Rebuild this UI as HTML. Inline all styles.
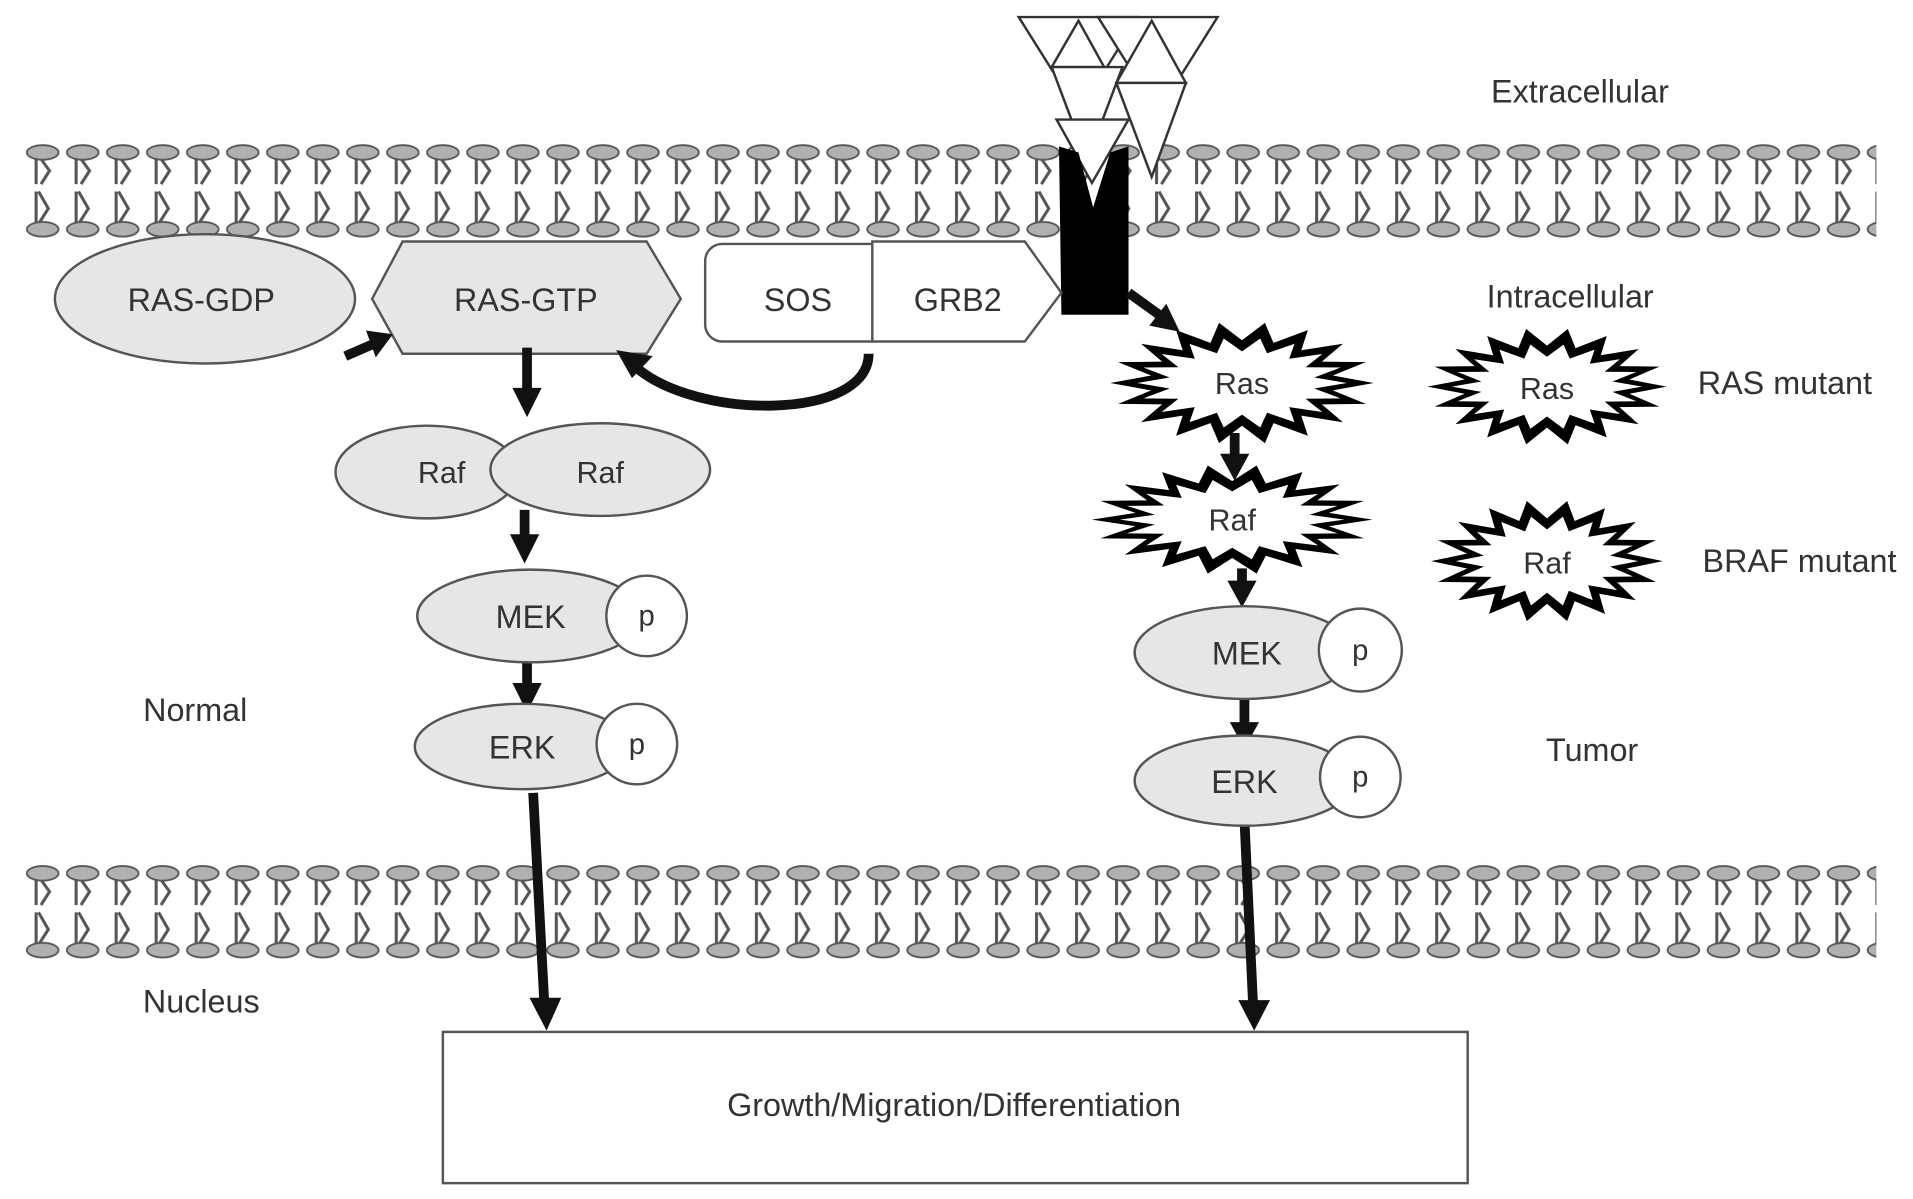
<!DOCTYPE html>
<html><head><meta charset="utf-8"><style>
html,body{margin:0;padding:0;background:#fff;}
svg{display:block;}
text{font-family:"Liberation Sans",sans-serif;fill:#333;}
</style></head><body>
<svg width="1913" height="1199" viewBox="0 0 1568 983" preserveAspectRatio="none" xmlns="http://www.w3.org/2000/svg">
<defs>
<pattern id="lip" x="18.6" y="115" width="32.8" height="80" patternUnits="userSpaceOnUse">
 <g stroke="#555" stroke-width="2.5" fill="none">
  <line x1="11" y1="14" x2="11" y2="36"/>
  <polyline points="14,14 22,25 15,36"/>
  <line x1="11" y1="42" x2="11" y2="68"/>
  <polyline points="13,42 21,56 14,67"/>
 </g>
 <ellipse cx="16.4" cy="10" rx="13" ry="6" fill="#b0b0b0" stroke="#555" stroke-width="1.5"/>
 <ellipse cx="16.4" cy="73" rx="13" ry="6" fill="#b0b0b0" stroke="#555" stroke-width="1.5"/>
</pattern>
<pattern id="lip2" x="18.6" y="706" width="32.8" height="80" patternUnits="userSpaceOnUse">
 <g stroke="#555" stroke-width="2.5" fill="none">
  <line x1="11" y1="14" x2="11" y2="36"/>
  <polyline points="14,14 22,25 15,36"/>
  <line x1="11" y1="42" x2="11" y2="68"/>
  <polyline points="13,42 21,56 14,67"/>
 </g>
 <ellipse cx="16.4" cy="10" rx="13" ry="6" fill="#b0b0b0" stroke="#555" stroke-width="1.5"/>
 <ellipse cx="16.4" cy="73" rx="13" ry="6" fill="#b0b0b0" stroke="#555" stroke-width="1.5"/>
</pattern>
<polygon id="star" points="1,0 .689,.122 .94,.342 .606,.35 .766,.643 .45,.536 .5,.866 .239,.658 .174,.985 0,.7 -.174,.985 -.239,.658 -.5,.866 -.45,.536 -.766,.643 -.606,.35 -.94,.342 -.689,.122 -1,0 -.689,-.122 -.94,-.342 -.606,-.35 -.766,-.643 -.45,-.536 -.5,-.866 -.239,-.658 -.174,-.985 0,-.7 .174,-.985 .239,-.658 .5,-.866 .45,-.536 .766,-.643 .606,-.35 .94,-.342 .689,-.122"/>
</defs>

<rect x="18" y="115" width="1520" height="80" fill="url(#lip)"/>
<rect x="18" y="706" width="1520" height="80" fill="url(#lip2)"/>

<g fill="#fff" stroke="#333" stroke-width="2">
 <polygon points="835,14 933,14 884,92"/>
 <polygon points="900,14 998,14 949,92"/>
 <polygon points="884,17 905,55 862,55"/>
 <polygon points="944,17 972,68 915,68"/>
 <polygon points="862,55 920,55 891,132"/>
 <polygon points="915,68 972,68 944,145"/>
 <polygon points="866,98 925,98 895,150"/>
</g>
<polygon points="868,120 884,125 896,170 910,125 925,120 925,258 870,258" fill="#000"/>

<ellipse cx="168" cy="245" rx="123" ry="53" fill="#e6e6e6" stroke="#555" stroke-width="2"/>
<polygon points="305,245 330,198 530,198 558,245 530,290 330,290" fill="#e6e6e6" stroke="#555" stroke-width="2"/>
<rect x="578" y="200" width="150" height="80" rx="14" fill="#fff" stroke="#555" stroke-width="2"/>
<polygon points="715,198 840,198 870,240 840,280 715,280" fill="#fff" stroke="#555" stroke-width="2"/>

<text x="165" y="255" font-size="26.5" text-anchor="middle">RAS-GDP</text>
<text x="431" y="255" font-size="26.5" text-anchor="middle">RAS-GTP</text>
<text x="654" y="255" font-size="26.5" text-anchor="middle">SOS</text>
<text x="785" y="255" font-size="26.5" text-anchor="middle">GRB2</text>

<g stroke="#111" stroke-width="8" fill="none">
 <line x1="283" y1="292" x2="306" y2="282"/>
 <line x1="432" y1="285" x2="432" y2="320"/>
 <line x1="430" y1="418" x2="430" y2="440"/>
 <line x1="432" y1="540" x2="432" y2="562"/>
 <line x1="437" y1="650" x2="446" y2="820"/>
 <line x1="925" y1="240" x2="950" y2="258"/>
 <line x1="1012" y1="355" x2="1012" y2="374"/>
 <line x1="1018" y1="466" x2="1018" y2="478"/>
 <line x1="1020" y1="573" x2="1020" y2="594"/>
 <line x1="1020" y1="672" x2="1027" y2="822"/>
</g>
<g fill="#111">
 <polygon points="322,274 300,271 308,293"/>
 <polygon points="420,318 444,318 432,342"/>
 <polygon points="418,438 442,438 430,462"/>
 <polygon points="420,560 444,560 432,584"/>
 <polygon points="434,818 460,818 448,845"/>
 <polygon points="967,272 942,267 956,249"/>
 <polygon points="1000,372 1024,372 1012,394"/>
 <polygon points="1006,476 1030,476 1018,498"/>
 <polygon points="1008,592 1032,592 1020,614"/>
 <polygon points="1015,820 1041,820 1028,845"/>
</g>
<path d="M712,290 C712,345 570,345 520,300" stroke="#111" stroke-width="8" fill="none"/>
<polygon points="505,287 535,292 518,310" fill="#111"/>

<ellipse cx="350" cy="387" rx="75" ry="38" fill="#e6e6e6" stroke="#555" stroke-width="2"/>
<ellipse cx="492" cy="385" rx="90" ry="38" fill="#e6e6e6" stroke="#555" stroke-width="2"/>
<text x="362" y="396" font-size="25" text-anchor="middle">Raf</text>
<text x="492" y="396" font-size="25" text-anchor="middle">Raf</text>
<ellipse cx="435" cy="505" rx="93" ry="38" fill="#e6e6e6" stroke="#555" stroke-width="2"/>
<circle cx="530" cy="505" r="33" fill="#fff" stroke="#555" stroke-width="2"/>
<text x="435" y="515" font-size="26.5" text-anchor="middle">MEK</text>
<text x="530" y="513" font-size="24" text-anchor="middle">p</text>
<ellipse cx="428" cy="612" rx="88" ry="35" fill="#e6e6e6" stroke="#555" stroke-width="2"/>
<circle cx="522" cy="610" r="33" fill="#fff" stroke="#555" stroke-width="2"/>
<text x="428" y="622" font-size="26.5" text-anchor="middle">ERK</text>
<text x="522" y="618" font-size="24" text-anchor="middle">p</text>

<use href="#star" transform="translate(1018,314) scale(108,50)" fill="#000"/>
<use href="#star" transform="translate(1018,314) scale(86,37)" fill="#fff"/>
<use href="#star" transform="translate(1268,317) scale(98,48)" fill="#000"/>
<use href="#star" transform="translate(1268,317) scale(78,35)" fill="#fff"/>
<use href="#star" transform="translate(1010,426) scale(115,45)" fill="#000"/>
<use href="#star" transform="translate(1010,426) scale(92,33)" fill="#fff"/>
<use href="#star" transform="translate(1268,460) scale(95,50)" fill="#000"/>
<use href="#star" transform="translate(1268,460) scale(75,37)" fill="#fff"/>
<text x="1018" y="323" font-size="25" text-anchor="middle">Ras</text>
<text x="1268" y="327" font-size="25" text-anchor="middle">Ras</text>
<text x="1010" y="435" font-size="25" text-anchor="middle">Raf</text>
<text x="1268" y="470" font-size="25" text-anchor="middle">Raf</text>

<ellipse cx="1020" cy="535" rx="90" ry="38" fill="#e6e6e6" stroke="#555" stroke-width="2"/>
<circle cx="1115" cy="533" r="34" fill="#fff" stroke="#555" stroke-width="2"/>
<text x="1022" y="545" font-size="26.5" text-anchor="middle">MEK</text>
<text x="1115" y="541" font-size="24" text-anchor="middle">p</text>
<ellipse cx="1020" cy="640" rx="90" ry="37" fill="#e6e6e6" stroke="#555" stroke-width="2"/>
<circle cx="1115" cy="637" r="33" fill="#fff" stroke="#555" stroke-width="2"/>
<text x="1020" y="650" font-size="26.5" text-anchor="middle">ERK</text>
<text x="1115" y="645" font-size="24" text-anchor="middle">p</text>

<rect x="363" y="846" width="840" height="124" fill="#fff" stroke="#555" stroke-width="2"/>
<text x="782" y="915" font-size="26.5" text-anchor="middle">Growth/Migration/Differentiation</text>

<text x="1295" y="84" font-size="26.5" text-anchor="middle">Extracellular</text>
<text x="1287" y="252" font-size="26.5" text-anchor="middle">Intracellular</text>
<text x="1463" y="323" font-size="26.5" text-anchor="middle">RAS mutant</text>
<text x="1475" y="469" font-size="26.5" text-anchor="middle">BRAF mutant</text>
<text x="1305" y="624" font-size="26.5" text-anchor="middle">Tumor</text>
<text x="160" y="591" font-size="26.5" text-anchor="middle">Normal</text>
<text x="165" y="830" font-size="26.5" text-anchor="middle">Nucleus</text>
</svg>
</body></html>
